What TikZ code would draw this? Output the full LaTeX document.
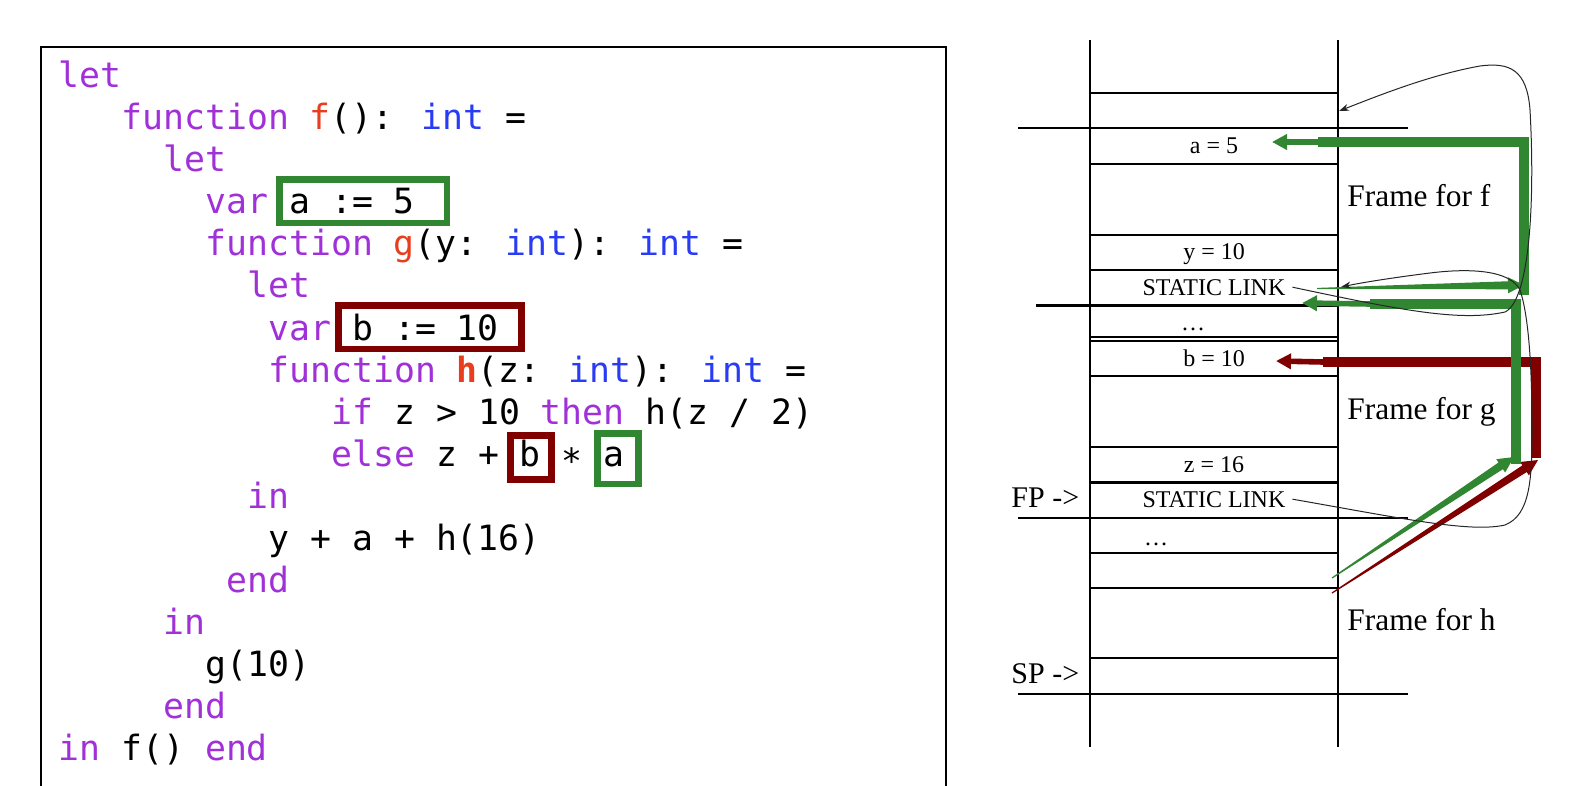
\documentclass[tikz,border=0pt]{standalone}
\usepackage{fontspec}
\setmainfont{Liberation Serif}
\newfontfamily\codefont{DejaVu Sans Mono}
\usepackage{xcolor}
\usetikzlibrary{arrows.meta,calc}

\definecolor{kwpurple}{RGB}{160,48,215}
\definecolor{fnred}{RGB}{232,62,30}
\definecolor{tyblue}{RGB}{40,60,245}
\definecolor{boxgreen}{RGB}{49,134,49}
\definecolor{boxred}{RGB}{128,0,0}

\newcommand{\kw}[1]{\textcolor{kwpurple}{#1}}
\newcommand{\fn}[1]{\textcolor{fnred}{#1}}
\newcommand{\ty}[1]{\textcolor{tyblue}{#1}}
\newcommand{\taper}[3]{%
  \coordinate (#2-b) at ($(#2)!8pt!(#1)$);
  \fill[#3] ($(#1)!0.3pt!90:(#2)$) -- ($(#2-b)!2pt!90:(#2)$) -- ($(#2-b)!4pt!90:(#2)$) -- (#2)
    -- ($(#2-b)!4pt!-90:(#2)$) -- ($(#2-b)!2pt!-90:(#2)$) -- ($(#1)!0.3pt!-90:(#2)$) -- cycle;}

\begin{document}
\begin{tikzpicture}[x=0.5pt, y=-0.5pt,
    code/.style={anchor=base west, inner sep=0pt, font=\codefont\fontsize{17.4}{21}\selectfont},
    cell/.style={anchor=base, font=\fontsize{12}{14}\selectfont},
    frm/.style={anchor=base west, inner sep=0pt, font=\fontsize{15.7}{18}\selectfont},
    ptr/.style={anchor=base west, inner sep=0pt, font=\fontsize{15}{18}\selectfont},
    stk/.style={line width=0.65pt},
    hlbox/.style={line width=3.3pt},
    ptrbar/.style={line width=4.6pt},
    headshaft/.style={line width=2.8pt, -{Triangle[length=7.5pt,width=7.5pt]}},
    link/.style={line width=0.5pt, black!85, -{Stealth[length=5pt,width=3.5pt]}}]
    \useasboundingbox (0,0) rectangle (1573,786);

    \draw[line width=1pt] (41,800) -- (41,47) -- (946,47) -- (946,800);

    \node[code] (c0) at (58,88) {\kw{let}};
    \node[code] (c1) at (121,130) {\kw{function} \fn{f}(): \ty{int} =};
    \node[code] (c2) at (163,172) {\kw{let}};
    \node[code] (c3) at (205,214) {\kw{var} a := 5};
    \node[code] (c4) at (205,256) {\kw{function} \fn{g}(y: \ty{int}): \ty{int} =};
    \node[code] (c5) at (247,298) {\kw{let}};
    \node[code] (c6) at (268,340) {\kw{var} b := 10};
    \node[code] (c7) at (268,382) {\kw{function} \fn{\bfseries h}(z: \ty{int}): \ty{int} =};
    \node[code] (c8) at (331,424) {\kw{if} z > 10 \kw{then} h(z / 2)};
    \node[code] (c9) at (331,466) {\kw{else} z + b ∗ a};
    \node[code] (c10) at (247,508) {\kw{in}};
    \node[code] (c11) at (268,550) {y + a + h(16)};
    \node[code] (c12) at (226,592) {\kw{end}};
    \node[code] (c13) at (163,634) {\kw{in}};
    \node[code] (c14) at (205,676) {g(10)};
    \node[code] (c15) at (163,718) {\kw{end}};
    \node[code] (c16) at (58,760) {\kw{in} f() \kw{end}};

    \draw[hlbox, boxgreen] (279.5,179.5) rectangle (447,223);
    \draw[hlbox, boxred] (338.5,305.5) rectangle (521.5,349);
    \draw[hlbox, boxred] (510.5,435.5) rectangle (551.5,479.5);
    \draw[hlbox, boxgreen] (597.5,433.5) rectangle (638.5,484);

    \draw[stk] (1090,40) -- (1090,747);
    \draw[stk] (1338,40) -- (1338,747);
    \draw[stk] (1090,93) -- (1338,93);
    \draw[stk] (1018,128) -- (1408,128);
    \draw[stk] (1090,164) -- (1338,164);
    \draw[stk] (1090,235) -- (1338,235);
    \draw[stk] (1090,270) -- (1338,270);
    \draw[stk, line width=1.2pt] (1036,305.5) -- (1338,305.5);
    \draw[stk] (1090,337) -- (1338,337);
    \draw[stk] (1090,341) -- (1338,341);
    \draw[stk] (1090,376) -- (1338,376);
    \draw[stk] (1090,447) -- (1338,447);
    \draw[stk, line width=1.2pt] (1090,482.5) -- (1338,482.5);
    \draw[stk] (1018,518) -- (1408,518);
    \draw[stk] (1090,553) -- (1338,553);
    \draw[stk] (1090,588) -- (1338,588);
    \draw[stk] (1090,658) -- (1338,658);
    \draw[stk] (1018,694) -- (1408,694);

    \node[cell] (a5) at (1214,154) {a = 5};
    \node[cell] (y10) at (1214,260) {y = 10};
    \node[cell] (slg) at (1214,295) {STATIC LINK};
    \node[cell] (dotsg) at (1193,330) {…};
    \node[cell] (b10) at (1214,366) {b = 10};
    \node[cell] (z16) at (1214,472) {z = 16};
    \node[cell] (slh) at (1214,507) {STATIC LINK};
    \node[cell] (dotsh) at (1156,545) {…};

    \node[frm] (framef) at (1347,206) {Frame for f};
    \node[frm] (frameg) at (1347,419) {Frame for g};
    \node[frm] (frameh) at (1347,630) {Frame for h};
    \node[ptr] (fp) at (1011,507) {FP ->};
    \node[ptr] (sp) at (1011,683) {SP ->};

    \coordinate (ftop) at (1339,111);
    \coordinate (gtop) at (1341,287);
    \coordinate (atip) at (1272,142);
    \coordinate (sltip) at (1302,303);
    \coordinate (btip) at (1276,361);
    \coordinate (gw1s) at (1317,288.5);
    \coordinate (gw1e) at (1524,285);
    \coordinate (gw2s) at (1332,578);
    \coordinate (gw2e) at (1514,457);
    \coordinate (rws) at (1332,593);
    \coordinate (rwe) at (1538,460);

    \draw[ptrbar, boxred] (1536,458) -- (1536,362) -- (1323,362);
    \draw[headshaft, boxred] (1323,362) -- (btip);
    \taper{rws}{rwe}{boxred}

    \draw[ptrbar, boxgreen] (1516,464) -- (1516,304) -- (1370,304);
    \draw[headshaft, boxgreen] (1370,304) -- (sltip);
    \taper{gw2s}{gw2e}{boxgreen}

    \draw[ptrbar, boxgreen] (1524,295) -- (1524,142) -- (1318,142);
    \draw[headshaft, boxgreen] (1318,142) -- (atip);
    \taper{gw1s}{gw1e}{boxgreen}

    \draw[link] (slg.east) .. controls (1400,310) and (1460,322) .. (1505,312) .. controls (1530,300) and (1535,200) .. (1530,110) .. controls (1527,70) and (1510,62) .. (1480,66) .. controls (1430,75) and (1380,95) .. (ftop);
    \draw[link] (slh.east) .. controls (1400,518) and (1470,533) .. (1505,525) .. controls (1530,515) and (1532,480) .. (1532,430) .. controls (1532,380) and (1530,320) .. (1520,290) .. controls (1510,270) and (1470,268) .. (1430,273) .. controls (1390,278) and (1360,283) .. (gtop);

\end{tikzpicture}
\end{document}
